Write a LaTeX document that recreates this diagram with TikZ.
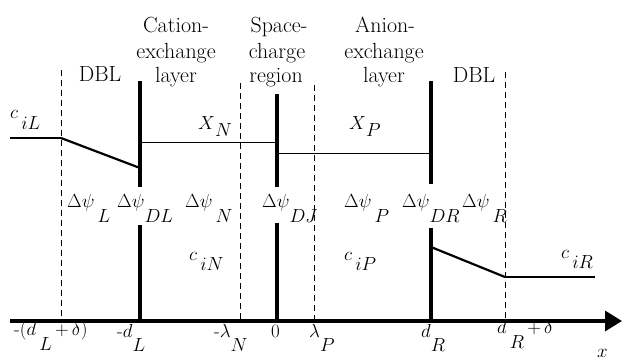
\RequirePackage{fix-cm}
\documentclass[tikz,border=0pt]{standalone}
\usepackage{fontspec}
\usetikzlibrary{arrows.meta}
\newcommand{\lowsub}[1]{\raisebox{-15bp}{$#1$}}
\begin{document}
\begin{tikzpicture}[x=1bp,y=-1bp,
  txt/.style={inner sep=0pt,anchor=base,font=\fontsize{22}{26}\selectfont},
  mth/.style={inner sep=0pt,anchor=base west,font=\fontsize{19}{21}\selectfont},
  dashline/.style={dash pattern=on 6bp off 4bp,line width=0.8bp},
  membrane/.style={line width=4bp},
  profile/.style={line width=2.2bp},
  flat/.style={line width=1.8bp},
  thinline/.style={line width=1bp}]
\useasboundingbox (0,0) rectangle (622,360);
% axis
\coordinate (a0) at (10,321);
\coordinate (a1) at (622,321);
\draw[line width=3.5bp,-{Triangle[length=17bp,width=20bp]}] (a0) -- (a1);
% dashed boundaries
\coordinate (dl0) at (61,70);   \coordinate (dl1) at (61,321);
\coordinate (sn0) at (240,83);  \coordinate (sn1) at (240,321);
\coordinate (sp0) at (314,85);  \coordinate (sp1) at (314,321);
\coordinate (dr0) at (505,72);  \coordinate (dr1) at (505,321);
\draw[dashline] (dl0) -- (dl1);
\draw[dashline] (sn0) -- (sn1);
\draw[dashline] (sp0) -- (sp1);
\draw[dashline] (dr0) -- (dr1);
% membranes (bars)
\coordinate (c0) at (140,81);  \coordinate (c1) at (140,187);
\coordinate (c2) at (140,225); \coordinate (c3) at (140,321);
\coordinate (j0) at (277,94);  \coordinate (j1) at (277,187);
\coordinate (j2) at (277,223); \coordinate (j3) at (277,321);
\coordinate (n0) at (431,81);  \coordinate (n1) at (431,184);
\coordinate (n2) at (431,228); \coordinate (n3) at (431,321);
\draw[membrane] (c0) -- (c1) (c2) -- (c3);
\draw[membrane] (j0) -- (j1) (j2) -- (j3);
\draw[membrane] (n0) -- (n1) (n2) -- (n3);
% concentration profile
\coordinate (p0) at (10,138);  \coordinate (p1) at (61,138);
\coordinate (p2) at (140,168);
\coordinate (p3) at (140,142); \coordinate (p4) at (277,142);
\coordinate (p5) at (277,153); \coordinate (p6) at (431,153);
\coordinate (p7) at (431,247); \coordinate (p8) at (505,277);
\coordinate (p9) at (595,277);
\draw[flat] (p0) -- (p1);
\draw[profile] (p1) -- (p2);
\draw[thinline] (p3) -- (p4);
\draw[thinline] (p5) -- (p6);
\draw[profile] (p7) -- (p8);
\draw[flat] (p8) -- (p9);
% region titles
\node[txt] (t1) at (176,32) {Cation-};
\node[txt] (t2) at (176,58) {exchange};
\node[txt] (t3) at (176,82) {layer};
\node[txt] (t4) at (279,32) {Space-};
\node[txt] (t5) at (277,58) {charge};
\node[txt] (t6) at (276,82) {region};
\node[txt] (t7) at (385,32) {Anion-};
\node[txt] (t8) at (384,58) {exchange};
\node[txt] (t9) at (384,82) {layer};
\node[txt] (t10) at (100,81) {DBL};
\node[txt] (t11) at (474,82) {DBL};
% concentrations
\node[mth] (ciL) at (10,118) {$c$\,\raisebox{-11bp}{$iL$}};
\node[mth] (XN) at (198,129) {$X$\raisebox{-7bp}{$N$}};
\node[mth] (XP) at (349,129) {$X$\raisebox{-7bp}{$P$}};
\node[mth] (ciN) at (189,260) {$c$\,\raisebox{-10bp}{$iN$}};
\node[mth] (ciP) at (344,260) {$c$\,\raisebox{-10bp}{$iP$}};
\node[mth] (ciR) at (561,258) {$c$\,\raisebox{-10bp}{$iR$}};
% potentials
\node[mth] (psiL) at (67,207) {$\Delta\psi$\,\lowsub{L}};
\node[mth] (psiDL) at (117,207) {$\Delta\psi$\lowsub{DL}};
\node[mth] (psiN) at (185,207) {$\Delta\psi$\,\lowsub{N}};
\node[mth] (psiDJ) at (262,207) {$\Delta\psi$\lowsub{DJ}};
\node[mth] (psiP) at (344,207) {$\Delta\psi$\,\lowsub{P}};
\node[mth] (psiDR) at (402,207) {$\Delta\psi$\lowsub{DR}};
\node[mth] (psiR) at (462,207) {$\Delta\psi$\,\lowsub{R}};
% axis labels
\node[mth] (l1) at (14,335) {-$(d$\,\lowsub{L}\,$+\,\delta)$};
\node[mth] (l2) at (117,337) {-$d$\raisebox{-14bp}{$L$}};
\node[mth] (l3) at (214,337) {-$\lambda$\raisebox{-14bp}{$N$}};
\node[mth] (l4) at (271,337) {$0$};
\node[mth] (l5) at (309,337) {$\lambda$\raisebox{-14bp}{$P$}};
\node[mth] (l6) at (421,337) {$d$\raisebox{-14bp}{$R$}};
\node[mth] (l7) at (497,333) {$d$\,\lowsub{R}$\,+\,\delta$};
\node[mth] (l8) at (597,357) {$x$};
\end{tikzpicture}
\end{document}
